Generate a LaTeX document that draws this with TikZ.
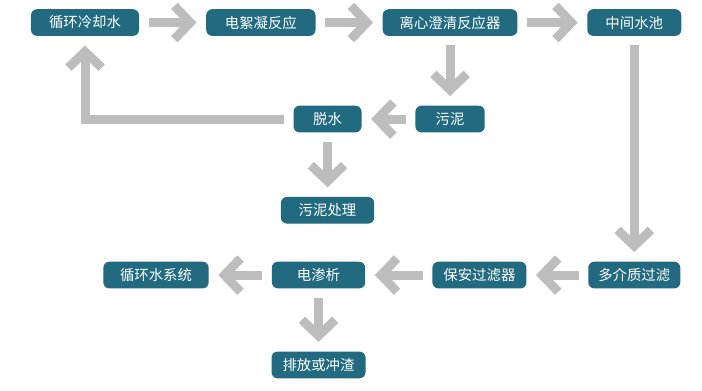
\documentclass[tikz,border=0pt]{standalone}
\usepackage{fontspec}
\setmainfont{Noto Sans CJK SC}
\usepackage{xcolor}
\definecolor{flowTeal}{HTML}{216A80}
\definecolor{flowGray}{HTML}{BDBDBD}
\usepackage{tikz}
\usetikzlibrary{arrows.meta, positioning}

\begin{document}
\begin{tikzpicture}[
		node distance=50pt,
		box/.style={
			fill=flowTeal,
			rounded corners=4.5pt,
			minimum height=20pt,
			inner sep=2pt,
			text=white,
			font=\fontsize{10.8pt}{13pt}\selectfont
		},
		arrow/.style={
			-{Straight Barb[length=12pt, width=25pt]},
			line width=6.75pt,
			draw=flowGray,
			line join=miter,
			shorten <=7pt,
			shorten >=7pt
		}
		]
		
		\useasboundingbox (-63.75pt,16.9pt) rectangle ++(526.5pt,-292.5pt);
		
		% top row
		\node[box, minimum width=81pt] (cool) {循环冷却水};
		\node[box, minimum width=82pt, right=of cool] (ecoag) {电絮凝反应};
		\node[box, minimum width=101pt, right=of ecoag] (clarif) {离心澄清反应器};
		\node[box, minimum width=70.5pt, right=52pt of clarif] (pool) {中间水池};
		
		% sludge branch
		\node[box, minimum width=52pt, below=52pt of clarif] (sludge) {污泥};
		\node[box, minimum width=51pt, left=40pt of sludge] (dewater) {脱水};
		\node[box, minimum width=70pt, below=48pt of dewater] (treat) {污泥处理};
		
		% bottom row
		\node[box, minimum width=69pt, below=169pt of pool] (media) {多介质过滤};
		\node[box, minimum width=70.5pt, left=46pt of media] (guard) {保安过滤器};
		\node[box, minimum width=70pt, left=50pt of guard] (ed) {电渗析};
		\node[box, minimum width=79pt, left=47pt of ed] (recirc) {循环水系统};
		\node[box, minimum width=70.5pt, below=47pt of ed] (drain) {排放或冲渣};
		
		\draw[arrow] (cool) -- (ecoag);
		\draw[arrow] (ecoag) -- (clarif);
		\draw[arrow] (clarif) -- (pool);
		\draw[arrow] (clarif) -- (sludge);
		\draw[arrow] (sludge) -- (dewater);
		\draw[arrow] (dewater) -- (treat);
		\draw[arrow] (dewater) -- (cool |- dewater) -- (cool);
		\draw[arrow] (pool) -- (media);
		\draw[arrow] (media) -- (guard);
		\draw[arrow] (guard) -- (ed);
		\draw[arrow] (ed) -- (recirc);
		\draw[arrow] (ed) -- (drain);
		
	\end{tikzpicture}
\end{document}
